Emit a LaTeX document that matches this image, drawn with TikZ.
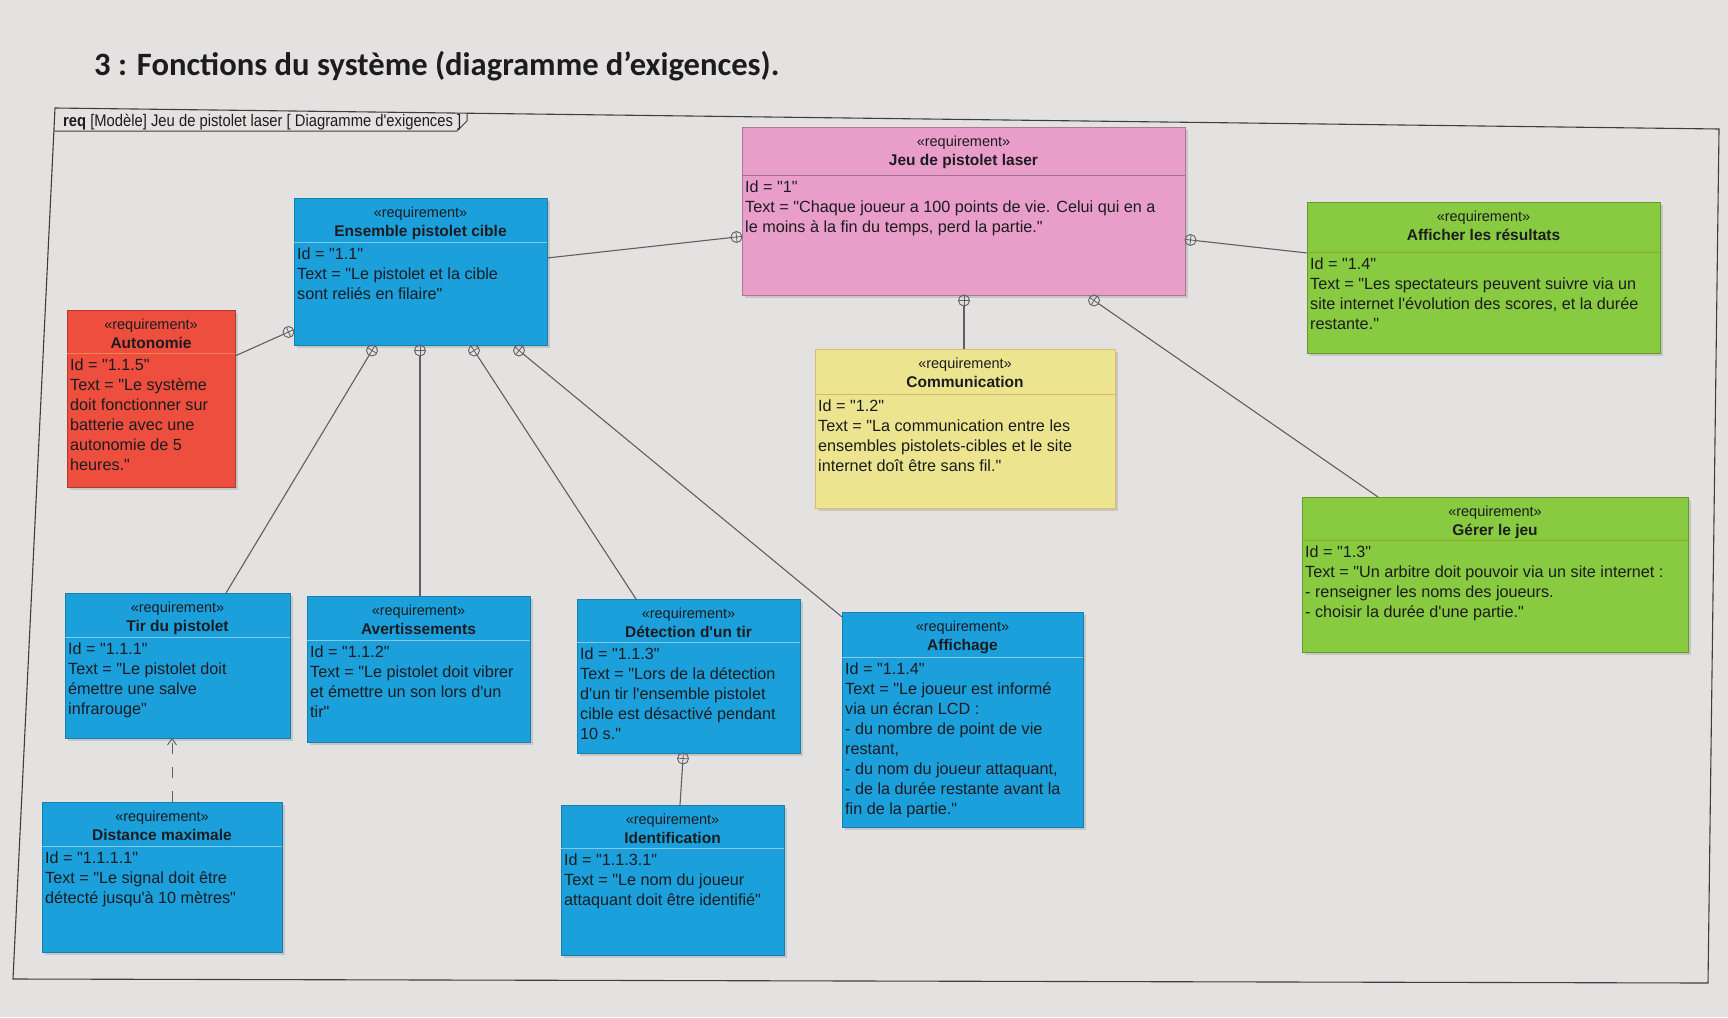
\documentclass[tikz,border=0pt]{standalone}
\usepackage{fontspec}
\newfontfamily\boxfont{Liberation Sans}
\newfontfamily\narrowfont[FakeStretch=0.88]{Liberation Sans}
\newfontfamily\headfont{Carlito}
\usetikzlibrary{calc,shadows,arrows.meta}

\definecolor{paper}{RGB}{228,226,225}
\definecolor{ink}{RGB}{28,28,32}
\definecolor{linegray}{RGB}{95,95,98}
\definecolor{reqpink}{RGB}{233,158,201}
\definecolor{reqblue}{RGB}{27,160,219}
\definecolor{reqred}{RGB}{237,78,62}
\definecolor{reqyellow}{RGB}{236,228,142}
\definecolor{reqgreen}{RGB}{136,202,64}

\tikzset{
  conn/.style={draw=linegray,line width=1.1pt},
  reqframe/.style={rectangle,draw,line width=0.8pt,inner sep=0pt,outer sep=0pt,
    drop shadow={shadow xshift=2.5pt,shadow yshift=-2.5pt,opacity=0.28}},
  stereo/.style={font=\boxfont\fontsize{14.5}{17}\selectfont,inner sep=0pt,text=ink},
  reqname/.style={font=\boxfont\bfseries\fontsize{15.5}{18}\selectfont,inner sep=0pt,text=ink},
  reqbody/.style={font=\boxfont\fontsize{16.2}{20}\selectfont,align=left,inner sep=0pt,text=ink},
  pinkreq/.style={fill=reqpink,draw=reqpink!75!black},
  pinkreq sep/.style={draw=reqpink!70!black,line width=0.8pt},
  bluereq/.style={fill=reqblue,draw=reqblue!80!black},
  bluereq sep/.style={draw=reqblue!55!white,line width=0.9pt},
  redreq/.style={fill=reqred,draw=reqred!75!black},
  redreq sep/.style={draw=reqred!60!orange!80!white,line width=0.8pt},
  yellowreq/.style={fill=reqyellow,draw=reqyellow!60!brown},
  yellowreq sep/.style={draw=reqyellow!55!brown,line width=0.8pt},
  greenreq/.style={fill=reqgreen,draw=reqgreen!75!black},
  greenreq sep/.style={draw=reqgreen!70!yellow!80!black,line width=0.8pt},
}

% requirement block: name, x, y, width, height, header height, style, title, body
\newcommand\reqbox[9]{%
  \node[reqframe,#7,minimum width=#4pt,minimum height=#5pt,anchor=north west] (#1) at (#2,#3) {};
  \draw[#7 sep] ([yshift=-#6pt]#1.north west) -- ([yshift=-#6pt]#1.north east);
  \node[stereo,anchor=base] (#1-st) at ([yshift=-19.5pt]#1.north) {«requirement»};
  \node[reqname,anchor=base] (#1-nm) at ([yshift=-38.5pt]#1.north) {#8};
  \node[reqbody,anchor=north west] (#1-tx) at ([xshift=3pt,yshift=-#6pt-6pt]#1.north west) {#9};
}

% containment link: child end, crosshair circle next to the parent
\newcommand\contain[2]{%
  \draw[conn] (#1) -- ($(#2)!5.5pt!(#1)$);
  \draw[conn,line width=0.9pt] (#2) circle[radius=5.5pt];
  \draw[conn,line width=0.8pt] ($(#2)!5.5pt!(#1)$) -- ($(#2)!-5.5pt!(#1)$)
    ($(#2)!5.5pt!90:(#1)$) -- ($(#2)!5.5pt!-90:(#1)$);
}

\begin{document}
\begin{tikzpicture}[x=1pt,y=-1pt]
\useasboundingbox[fill=paper] (0,0) rectangle (1728,1017);

% heading
\node[anchor=base west,inner sep=0pt,text=ink,font=\headfont\bfseries\fontsize{32.6}{36}\selectfont]
  (title) at (94,75) {3 : Fonctions du système (diagramme d’exigences).};

% diagram frame and its tab
\coordinate (fTL) at (55,108);
\coordinate (fTR) at (1719,129);
\coordinate (fBR) at (1708,983);
\coordinate (fBL) at (13,979);
\draw[draw=ink!85,line width=1.1pt] (fTL) -- (fTR) -- (fBR) -- (fBL) -- cycle;
\coordinate (tabL) at (54,131);
\coordinate (tabB) at (457,131);
\coordinate (tabC) at (467,121);
\coordinate (tabT) at (467,113);
\draw[draw=ink!85,line width=1pt] (tabL) -- (tabB) -- (tabC) -- (tabT);
\node[anchor=base west,inner sep=0pt,text=ink,font=\narrowfont\fontsize{16.8}{18}\selectfont]
  (tab) at (63,126) {\textbf{req} [Modèle] Jeu de pistolet laser [ Diagramme d'exigences ]};

% requirements
\reqbox{jeu}{742}{127}{443}{168}{48}{pinkreq}{Jeu de pistolet laser}
  {Id = "1"\\Text = "Chaque joueur a 100 points de vie. Celui qui en a\\le moins à la fin du temps, perd la partie."}
\reqbox{ens}{294}{198}{253}{147}{44}{bluereq}{Ensemble pistolet cible}
  {Id = "1.1"\\Text = "Le pistolet et la cible\\sont reliés en filaire"}
\reqbox{auto}{67}{310}{168}{177}{43}{redreq}{Autonomie}
  {Id = "1.1.5"\\Text = "Le système\\doit fonctionner sur\\batterie avec une\\autonomie de 5\\heures."}
\reqbox{comm}{815}{349}{300}{159}{45}{yellowreq}{Communication}
  {Id = "1.2"\\Text = "La communication entre les\\ensembles pistolets-cibles et le site\\internet doît être sans fil."}
\reqbox{affres}{1307}{202}{353}{151}{50}{greenreq}{Afficher les résultats}
  {Id = "1.4"\\Text = "Les spectateurs peuvent suivre via un\\site internet l'évolution des scores, et la durée\\restante."}
\reqbox{gerer}{1302}{497}{386}{155}{43}{greenreq}{Gérer le jeu}
  {Id = "1.3"\\Text = "Un arbitre doit pouvoir via un site internet :\\- renseigner les noms des joueurs.\\- choisir la durée d'une partie."}
\reqbox{tir}{65}{593}{225}{145}{44}{bluereq}{Tir du pistolet}
  {Id = "1.1.1"\\Text = "Le pistolet doit\\émettre une salve\\infrarouge"}
\reqbox{avert}{307}{596}{223}{146}{44}{bluereq}{Avertissements}
  {Id = "1.1.2"\\Text = "Le pistolet doit vibrer\\et émettre un son lors d'un\\tir"}
\reqbox{detect}{577}{599}{223}{154}{43}{bluereq}{Détection d'un tir}
  {Id = "1.1.3"\\Text = "Lors de la détection\\d'un tir l'ensemble pistolet\\cible est désactivé pendant\\10 s."}
\reqbox{affich}{842}{612}{241}{215}{45}{bluereq}{Affichage}
  {Id = "1.1.4"\\Text = "Le joueur est informé\\via un écran LCD :\\- du nombre de point de vie\\restant,\\- du nom du joueur attaquant,\\- de la durée restante avant la\\fin de la partie."}
\reqbox{dist}{42}{802}{240}{150}{44}{bluereq}{Distance maximale}
  {Id = "1.1.1.1"\\Text = "Le signal doit être\\détecté jusqu'à 10 mètres"}
\reqbox{ident}{561}{805}{223}{150}{43}{bluereq}{Identification}
  {Id = "1.1.3.1"\\Text = "Le nom du joueur\\attaquant doit être identifié"}

% containment links
\coordinate (e1) at ($(ens.north east)+(0,60)$);
\coordinate (c1) at ($(jeu.north west)+(-5.5,110)$);
\contain{e1}{c1}
\coordinate (e2) at ($(affres.north west)+(0,51)$);
\coordinate (c2) at ($(jeu.north east)+(5.5,113)$);
\contain{e2}{c2}
\coordinate (e3) at ($(comm.north west)+(149,0)$);
\coordinate (c3) at ($(jeu.south west)+(222,5.5)$);
\contain{e3}{c3}
\coordinate (e4) at ($(gerer.north west)+(76,0)$);
\coordinate (c4) at ($(jeu.south west)+(352,5.5)$);
\contain{e4}{c4}
\coordinate (e5) at ($(auto.north east)+(0,46)$);
\coordinate (c5) at ($(ens.north west)+(-5.5,134)$);
\contain{e5}{c5}
\coordinate (e6) at ($(tir.north west)+(161,0)$);
\coordinate (c6) at ($(ens.south west)+(78,5.5)$);
\contain{e6}{c6}
\coordinate (e7) at ($(avert.north west)+(113,0)$);
\coordinate (c7) at ($(ens.south west)+(126,5.5)$);
\contain{e7}{c7}
\coordinate (e8) at ($(detect.north west)+(59,0)$);
\coordinate (c8) at ($(ens.south west)+(180,5.5)$);
\contain{e8}{c8}
\coordinate (e9) at ($(affich.north west)+(0,5)$);
\coordinate (c9) at ($(ens.south west)+(225,5.5)$);
\contain{e9}{c9}
\coordinate (e10) at ($(ident.north west)+(119,0)$);
\coordinate (c10) at ($(detect.south west)+(106,5.5)$);
\contain{e10}{c10}

% derivation link
\coordinate (d1) at ($(dist.north west)+(130,0)$);
\coordinate (d2) at ($(tir.south west)+(107,0)$);
\draw[conn,line width=1pt,dash pattern=on 11pt off 13pt,
  -{Straight Barb[length=6pt,width=9pt,line width=1pt]}] (d1) -- (d2);
\end{tikzpicture}
\end{document}
